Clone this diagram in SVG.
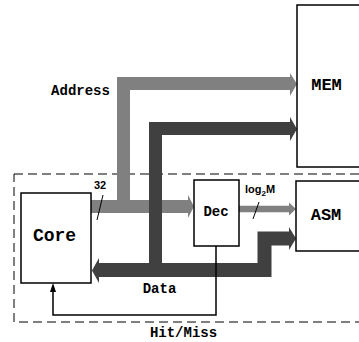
<svg xmlns="http://www.w3.org/2000/svg" width="359" height="342" viewBox="0 0 359 342">
<style>
.box{fill:#fff;stroke:#000;stroke-width:1.5}
.mono{font-family:"Liberation Mono","Courier New",monospace;font-weight:bold;fill:#000}
.sans{font-family:"Liberation Sans",Arial,sans-serif;font-weight:bold;fill:#000}
.lt{fill:none;stroke:#808080;stroke-linejoin:miter;stroke-linecap:butt}
.dk{fill:none;stroke:#404040;stroke-linejoin:miter;stroke-linecap:butt}
.lth{fill:#808080}
.dkh{fill:#404040}
.thin{fill:none;stroke:#000;stroke-width:1}
.fb{fill:none;stroke:#000;stroke-width:1.5}
</style>
<rect x="14" y="174" width="360" height="148" fill="none" stroke="#000" stroke-width="1" stroke-dasharray="9,5"/>
<g id="connectors">
  <!-- Address path -->
  <polyline class="lt" stroke-width="13" points="91,206.5 189,206.5"/>
  <polygon class="lth" points="188,195 194,206.5 188,218"/>
  <polyline class="lt" stroke-width="13" points="123.5,206.5 123.5,83.5 291,83.5"/>
  <polygon class="lth" points="290,73 297,84 290,96"/>
  <!-- Data path -->
  <polyline class="dk" stroke-width="13" points="291,128.5 155.5,128.5 155.5,270"/>
  <polygon class="dkh" points="290,117 297,129 290,141"/>
  <polyline class="dk" stroke-width="14" points="97,270 264.5,270 264.5,238.5 291,238.5"/>
  <polygon class="dkh" points="99,258 92,270.5 99,283"/>
  <polygon class="dkh" points="289,227 296,238.5 289,250"/>
  <!-- Dec to ASM -->
  <polyline class="lt" stroke-width="6.5" points="239,209 290,209"/>
  <polygon class="lth" points="289,202.5 296,209 289,215.5"/>
  <!-- Hit/Miss feedback -->
  <polyline class="fb" points="216,246 216,315 53,315 53,291"/>
  <polygon fill="#000" points="53,283 50,292 56,292"/>
  <!-- bus width slashes -->
  <line class="thin" x1="103" y1="195" x2="97" y2="220"/>
  <line class="thin" x1="259" y1="202" x2="253" y2="219"/>
</g>
<g id="core">
  <rect class="box" x="21" y="193" width="70" height="90"/>
  <text class="mono" x="54.5" y="241" font-size="18" text-anchor="middle">Core</text>
</g>
<g id="dec">
  <rect class="box" x="194" y="180" width="45" height="66"/>
  <text class="mono" x="216" y="216" font-size="14" text-anchor="middle">Dec</text>
</g>
<g id="mem">
  <rect class="box" x="297" y="5" width="80" height="162"/>
  <text class="mono" x="326.5" y="90" font-size="17" text-anchor="middle">MEM</text>
</g>
<g id="asm">
  <rect class="box" x="296" y="181" width="80" height="70"/>
  <text class="mono" x="326" y="220" font-size="17" text-anchor="middle">ASM</text>
</g>
<g id="labels">
  <text class="mono" x="80.5" y="95" font-size="14" text-anchor="middle">Address</text>
  <text class="mono" x="159.5" y="293" font-size="14" text-anchor="middle">Data</text>
  <text class="mono" x="183.5" y="337" font-size="14" text-anchor="middle">Hit/Miss</text>
  <text class="sans" x="94" y="189" font-size="11">32</text>
  <text class="sans" x="245" y="193" font-size="11">log<tspan font-size="8" dy="3">2</tspan><tspan dy="-3">M</tspan></text>
</g>
</svg>
